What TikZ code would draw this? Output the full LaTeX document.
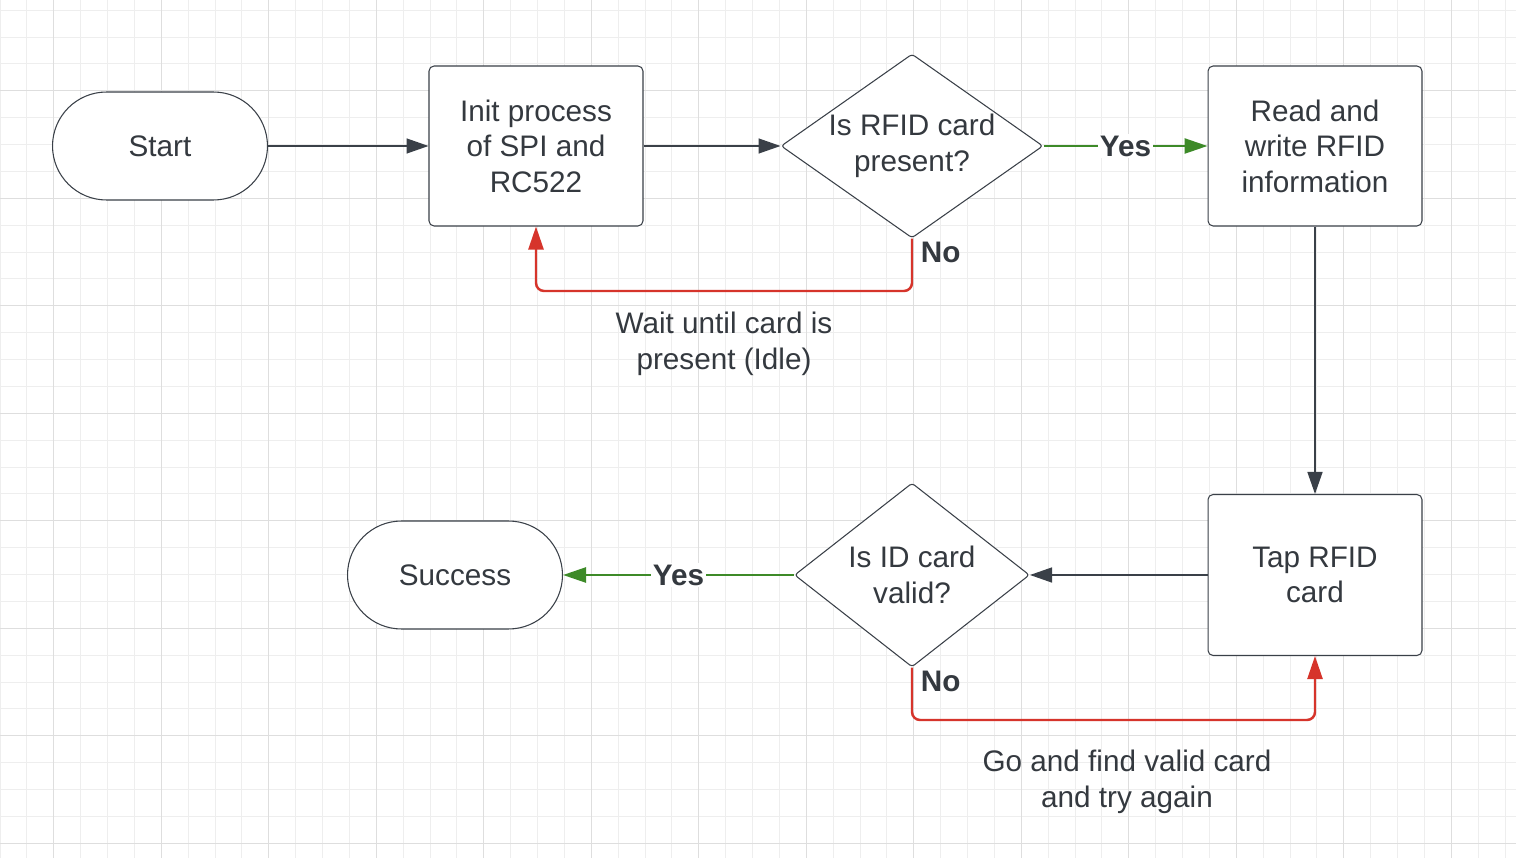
\documentclass[tikz,border=0pt]{standalone}
\usepackage{fontspec}
\setmainfont{Liberation Sans}
\usepackage{xcolor}
\usetikzlibrary{arrows.meta, shapes.geometric}
\definecolor{ink}{RGB}{58,64,72}
\definecolor{txt}{RGB}{52,57,63}
\definecolor{yesgreen}{RGB}{61,138,40}
\definecolor{nored}{RGB}{214,52,43}
\definecolor{gridminor}{RGB}{238,238,238}
\definecolor{gridmajor}{RGB}{222,222,222}

\begin{document}
\begin{tikzpicture}[x=0.02cm, y=-0.02cm,
    every node/.style={text=txt, font=\fontsize{16.9}{20.2}\selectfont},
    term/.style={rectangle, rounded corners=1.08cm, draw=ink, line width=0.6pt,
                 fill=white, minimum width=4.3cm, minimum height=2.16cm},
    proc/.style={rectangle, rounded corners=0.1cm, draw=ink, line width=0.6pt,
                 fill=white, align=center, minimum width=4.28cm, minimum height=3.2cm},
    decide/.style={diamond, draw=ink, line width=0.6pt, fill=white, align=center,
                   inner sep=0pt, rounded corners=0.06cm, minimum height=3.68cm},
    ar/.style={-{Triangle[length=0.44cm, width=0.3cm]}, draw=ink, line width=0.8pt},
    yes/.style={-{Triangle[length=0.46cm, width=0.3cm]}, draw=yesgreen, line width=1.4pt},
    no/.style={-{Triangle[length=0.46cm, width=0.3cm]}, draw=nored, line width=1.4pt,
               rounded corners=0.16cm},
    lbl/.style={font=\bfseries\fontsize{16.9}{20.2}\selectfont, inner sep=1pt},
    nolbl/.style={lbl, anchor=north west, inner sep=1.5pt, xshift=0.1cm},
    note/.style={align=center}
]
\useasboundingbox (0,0) rectangle (1516,858);
\fill[white] (0,0) rectangle (1516,858);
% background grid
\foreach \i in {0,...,56} \draw[gridminor, line width=0.5pt] (\i*26.875,0) -- (\i*26.875,858);
\foreach \j in {0,...,31} \draw[gridminor, line width=0.5pt] (0,10.1+\j*26.875) -- (1516,10.1+\j*26.875);
\foreach \i in {2,6,...,54} \draw[gridmajor, line width=0.6pt] (\i*26.875,0) -- (\i*26.875,858);
\foreach \j in {3,7,...,31} \draw[gridmajor, line width=0.6pt] (0,10.1+\j*26.875) -- (1516,10.1+\j*26.875);

% top row
\node[term] (start) at (160,146) {Start};
\node[proc] (init) at (536,146) {Init process\\of SPI and\\RC522};
\node[decide, aspect=1.42, minimum width=5.24cm] (cardq) at (912,146) {Is RFID card\\present?};
\node[proc] (rw) at (1315,146) {Read and\\write RFID\\information};
% bottom row
\node[proc, minimum height=3.22cm] (tap) at (1315,575) {Tap RFID\\card};
\node[decide, aspect=1.28, minimum width=4.7cm] (validq) at (912,575) {Is ID card\\valid?};
\node[term] (success) at (455,575) {Success};

\coordinate (waitbend) at (724,291);
\coordinate (retrybend) at (1127,720);
\node[note] (waitnote) at (724,344) {Wait until card is\\present (Idle)};
\node[note] (retrynote) at (1127,782) {Go and find valid card\\and try again};

\draw[ar] (start) -- (init);
\draw[ar] (init) -- (cardq);
\draw[yes] (cardq.east) -- node[lbl, fill=white] {Yes} (rw.west);
\draw[no] (cardq.south) node[nolbl] {No} |- (waitbend) -| (init.south);
\draw[ar] (rw) -- (tap);
\draw[ar] (tap.west) -- (validq.east);
\draw[yes] (validq.west) -- node[lbl, fill=white] {Yes} (success.east);
\draw[no] (validq.south) node[nolbl] {No} |- (retrybend) -| (tap.south);
\end{tikzpicture}
\end{document}
